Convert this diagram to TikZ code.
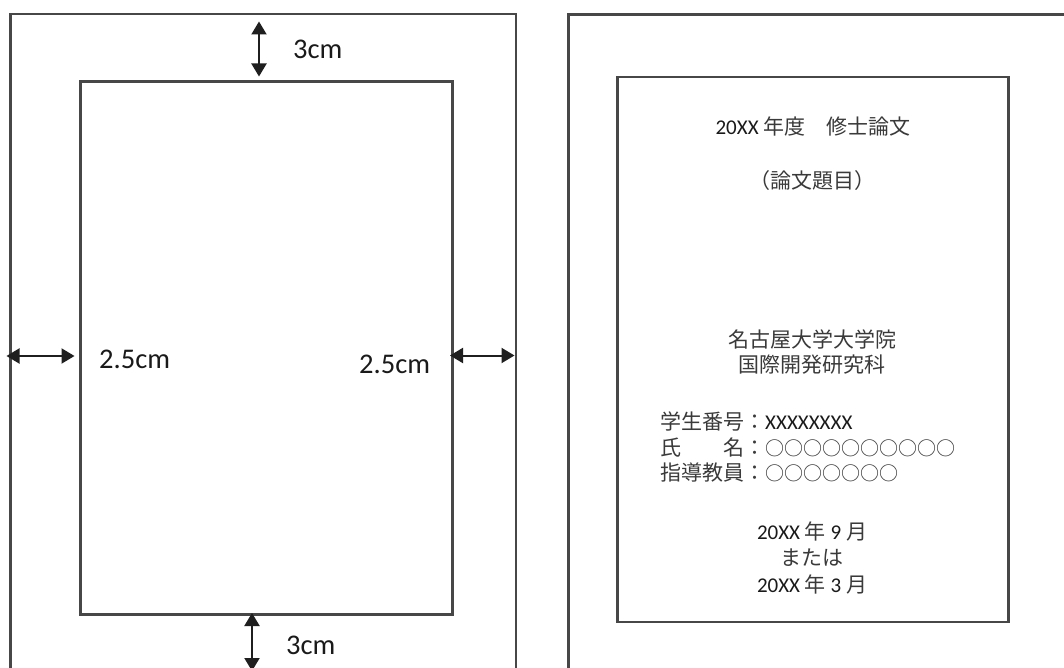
\documentclass[tikz,border=0pt]{standalone}
\usepackage{fontspec}
\setmainfont{Carlito}
\newfontfamily\jp{Noto Sans CJK JP}
\usetikzlibrary{arrows.meta}
\definecolor{frame}{HTML}{474747}
\definecolor{jtext}{HTML}{3A3A3A}
\definecolor{ltext}{HTML}{1A1A1A}
\tikzset{
  page/.style={draw=frame, line width=2.3pt},
  dimarrow/.style={line width=2pt, draw=black!88,
    {Triangle[width=15pt,length=13pt]}-{Triangle[width=15pt,length=13pt]}},
  dimlabel/.style={font=\fontsize{28.5}{34}\selectfont, text=ltext, inner sep=0pt, anchor=base west},
  ctext/.style={font=\fontsize{21}{25}\selectfont, text=ltext, inner sep=0pt, anchor=base},
  ltxt/.style={font=\fontsize{21}{25}\selectfont, text=ltext, inner sep=0pt, anchor=base west},
}
\newcommand{\J}[1]{{\jp\color{jtext}#1}}
\begin{document}
\begin{tikzpicture}[x=1pt,y=-1pt]
\useasboundingbox (0,0) rectangle (1064,668);
\fill[white] (0,0) rectangle (1064,668);
\clip (0,0) rectangle (1064,668);
% ---------- left page ----------
\draw[page] (10.5,14) rectangle (516,700);
\draw[page] (80.5,81.5) rectangle (452.5,614.5);
\coordinate (ta) at (259,21.5);
\coordinate (tb) at (259,76.5);
\coordinate (la) at (6.5,356);
\coordinate (lb) at (74.5,356);
\coordinate (ra) at (450,355.5);
\coordinate (rb) at (514.5,355.5);
\coordinate (ba) at (252,613);
\coordinate (bb) at (252,671);
\draw[dimarrow] (ta) -- (tb);
\draw[dimarrow] (la) -- (lb);
\draw[dimarrow] (ra) -- (rb);
\draw[dimarrow] (ba) -- (bb);
\node[dimlabel] (t3) at (293,59) {3cm};
\node[dimlabel] (l25) at (99,368) {2.5cm};
\node[dimlabel] (r25) at (359,373) {2.5cm};
\node[dimlabel] (b3) at (286,654) {3cm};
% ---------- right page ----------
\draw[page] (568.5,14.5) rectangle (1100,700);
\draw[page] (617.5,77) rectangle (1008.5,622);
\node[ctext] (l1) at (813,135) {20XX \J{年度　修士論文}};
\node[ctext] (l2) at (812,189) {\J{（論文題目）}};
\node[ctext] (l3) at (812,347) {\J{名古屋大学大学院}};
\node[ctext] (l4) at (812,372) {\J{国際開発研究科}};
\node[ltxt] (l5) at (660,429) {\J{学生番号：}XXXXXXXX};
\node[ltxt] (l6) at (660,455) {\J{氏　　名：}{\jp\color{jtext}\fontsize{19}{25}\selectfont ○○○○○○○○○○}};
\node[ltxt] (l7) at (660,480) {\J{指導教員：}{\jp\color{jtext}\fontsize{19}{25}\selectfont ○○○○○○○}};
\node[ctext] (l8) at (812,539) {20XX \J{年} 9 \J{月}};
\node[ctext] (l9) at (812,565) {\J{または}};
\node[ctext] (l10) at (812,592) {20XX \J{年} 3 \J{月}};
\end{tikzpicture}
\end{document}
